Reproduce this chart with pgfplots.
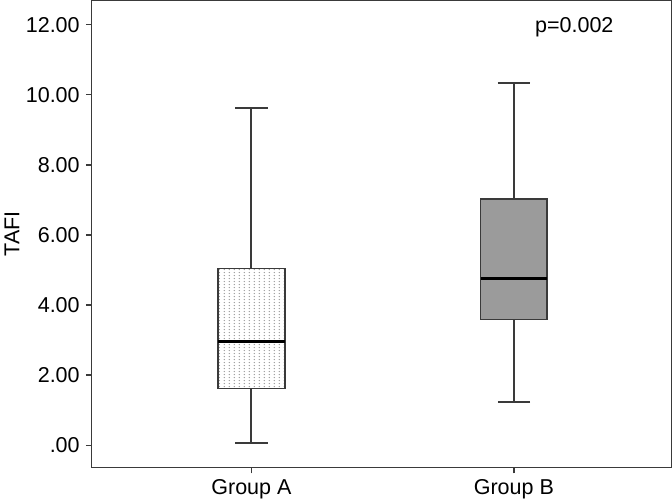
\documentclass[border=0pt]{standalone}
\usepackage{fontspec}
\setmainfont{Liberation Sans}
\usepackage{pgfplots}
\pgfplotsset{compat=1.18}
\usepgfplotslibrary{statistics}
\usetikzlibrary{patterns.meta}
\definecolor{edge}{HTML}{3A3A3A}
\definecolor{boxB}{HTML}{9B9B9B}
\pgfdeclarepattern{
  name=vdots, type=uncolored,
  bottom left={\pgfpoint{0pt}{0pt}}, top right={\pgfpoint{3.6pt}{2.2pt}},
  tile size={\pgfpoint{3.6pt}{2.2pt}},
  code={\pgfpathcircle{\pgfpoint{1.8pt}{1.1pt}}{0.5pt}\pgfusepath{fill}}}
\begin{document}
\begin{tikzpicture}
\begin{axis}[
  scale only axis,
  width=431pt, height=347pt,
  font=\fontsize{16}{19}\selectfont,
  xmin=0.392, xmax=2.6, ymin=-0.63, ymax=12.69,
  xtick={1,2}, xticklabels={Group A,Group B},
  ytick={0,2,4,6,8,10,12},
  yticklabels={.00,2.00,4.00,6.00,8.00,10.00,12.00},
  tick align=outside, tick pos=left,
  major tick length=4.5pt,
  axis line style={edge, line width=0.9pt},
  tick style={edge, line width=0.9pt},
  ylabel={TAFI},
  ylabel style={yshift=-2pt},
  yticklabel style={xshift=-1pt},
  xticklabel style={yshift=-1pt},
  boxplot/draw direction=y,
  boxplot/every median/.style={black, line width=2.5pt},
  boxplot/every whisker/.style={edge, line width=1.4pt},
  boxplot/every box/.style={draw=edge, line width=1.3pt},
]
\addplot[draw=edge, line width=1.3pt, pattern={vdots}, pattern color=gray!80,
  boxplot prepared={lower whisker=0.06, lower quartile=1.62, median=2.96,
    upper quartile=5.04, upper whisker=9.62, draw position=1,
    box extend=0.254, whisker extend=0.123}]
  coordinates {};
\addplot[draw=edge, line width=1.3pt, fill=boxB,
  boxplot prepared={lower whisker=1.23, lower quartile=3.59, median=4.75,
    upper quartile=7.03, upper whisker=10.34, draw position=2,
    box extend=0.254, whisker extend=0.123}]
  coordinates {};
\node[anchor=center] at (axis cs:2.23,11.94) {p=0.002};
\end{axis}
\end{tikzpicture}
\end{document}
